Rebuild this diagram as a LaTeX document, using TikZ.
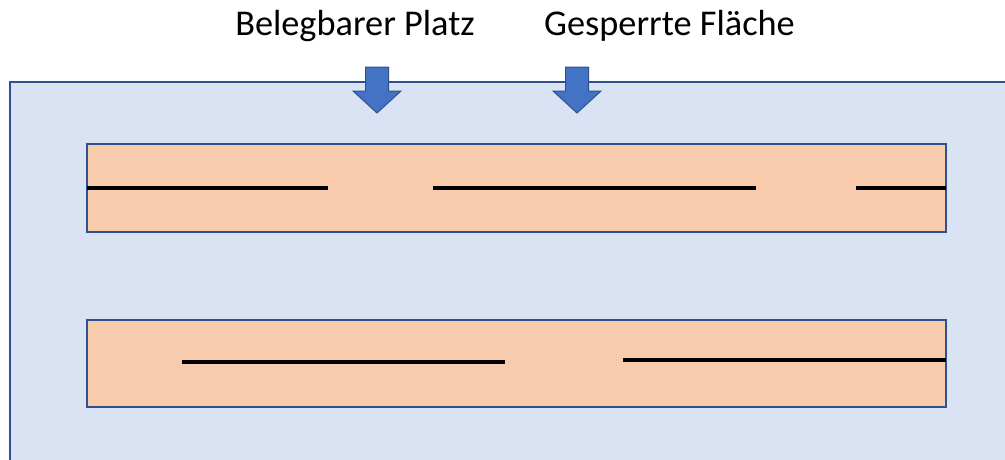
\documentclass[tikz,border=0pt]{standalone}
\usepackage{fontspec}
\setmainfont{Carlito}
\definecolor{areablue}{HTML}{DAE3F3}
\definecolor{edgeblue}{HTML}{2F528F}
\definecolor{arrblue}{HTML}{4472C4}
\definecolor{stripor}{HTML}{F8CBAD}
\begin{document}
\begin{tikzpicture}[x=1pt,y=-1pt]

    \newcommand{\blockarr}[1]{\draw[arr] (#1-11.5,67) -- (#1+11.5,67) -- (#1+11.5,91) -- (#1+24,91) -- (#1,113) -- (#1-24,91) -- (#1-11.5,91) -- cycle}

    \tikzstyle{area}=[fill=areablue, draw=edgeblue, line width=1.5pt]
    \tikzstyle{strip}=[fill=stripor, draw=edgeblue, line width=1.5pt]
    \tikzstyle{arr}=[fill=arrblue, draw=edgeblue, line width=1pt]
    \tikzstyle{bar}=[draw=black, line width=4.5pt]
    \tikzstyle{label}=[anchor=base, inner sep=0pt, font=\fontsize{36.3}{44}\selectfont]

    \useasboundingbox (0,0) rectangle (1005,459);
    \clip (0,0) rectangle (1005,459);

    \draw[area] (10,82) rectangle (1020,475);

    \draw[strip] (87,144) rectangle (946,232);
    \draw[strip] (87,320) rectangle (946,407);

    % top strip
    \draw[bar] (87,188) -- (328,188);
    \draw[bar] (433,188) -- (756,188);
    \draw[bar] (856,188) -- (946,188);
    % bottom strip
    \draw[bar] (182,362) -- (505,362);
    \draw[bar] (623,360) -- (946,360);

    \node[label] (platz) at (355,35) {Belegbarer Platz};
    \node[label] (flaeche) at (669.5,35) {Gesperrte Fläche};

    \foreach \x in {377, 577} {
        \blockarr{\x};
    }

\end{tikzpicture}
\end{document}
